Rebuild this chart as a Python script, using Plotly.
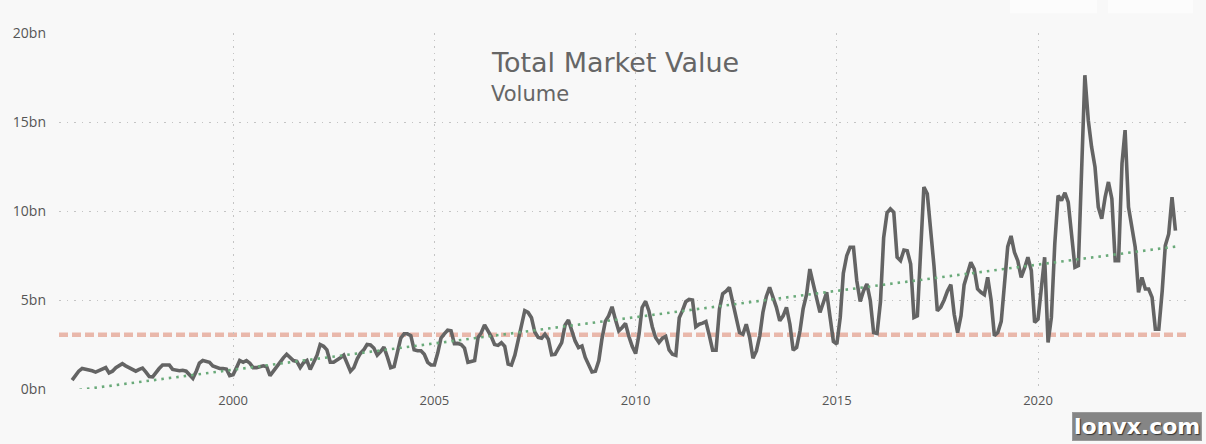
import pandas as pd
import plotly.graph_objects as go

# Monthly total market value (bn), Jan 1996 .. Jun 2023
start_month = "1996-01-01"
values_bn = [
    0.5, 0.8, 1.0, 1.15, 1.12, 1.08, 1.02, 0.95, 1.05, 1.15, 1.2, 0.9,        # 1996
    1.0, 1.2, 1.3, 1.42, 1.3, 1.2, 1.15, 1.0, 1.1, 1.17, 0.95, 0.7,           # 1997
    0.68, 0.95, 1.15, 1.35, 1.37, 1.35, 1.1, 1.05, 1.03, 1.05, 1.0, 0.8,      # 1998
    0.6, 1.0, 1.45, 1.6, 1.55, 1.5, 1.3, 1.2, 1.15, 1.15, 1.12, 0.75,         # 1999
    0.8, 1.2, 1.6, 1.5, 1.6, 1.45, 1.2, 1.2, 1.25, 1.3, 1.25, 0.75,           # 2000
    1.0, 1.25, 1.55, 1.75, 1.95, 1.8, 1.6, 1.55, 1.2, 1.48, 1.6, 1.1,         # 2001
    1.5, 1.9, 2.5, 2.4, 2.2, 1.5, 1.5, 1.6, 1.75, 1.9, 1.4, 1.0,              # 2002
    1.2, 1.7, 2.0, 2.2, 2.5, 2.48, 2.3, 1.9, 2.1, 2.35, 1.8, 1.2,             # 2003
    1.26, 2.0, 2.85, 3.1, 3.1, 3.0, 2.2, 2.15, 2.15, 1.95, 1.5, 1.35,         # 2004
    1.35, 2.05, 2.85, 3.1, 3.3, 3.27, 2.55, 2.56, 2.5, 2.3, 1.5, 1.55,        # 2005
    1.6, 2.9, 3.15, 3.6, 3.3, 2.95, 2.5, 2.45, 2.6, 2.4, 1.4, 1.35,           # 2006
    1.9, 2.8, 3.5, 4.4, 4.3, 4.0, 3.2, 2.9, 2.85, 3.08, 2.8, 1.92,            # 2007
    1.95, 2.33, 2.61, 3.6, 3.87, 3.27, 2.7, 2.33, 2.42, 1.77, 1.3, 0.96,      # 2008
    1.0, 1.6, 2.8, 3.8, 4.11, 4.62, 3.92, 3.27, 3.46, 3.68, 2.95, 2.4,        # 2009
    1.99, 3.08, 4.58, 4.92, 4.4, 3.5, 2.89, 2.61, 2.85, 2.95, 2.2, 1.95,      # 2010
    1.89, 4.0, 4.39, 4.9, 5.03, 5.0, 3.5, 3.64, 3.7, 3.79, 3.0, 2.18,         # 2011
    2.18, 4.5, 5.35, 5.5, 5.71, 4.9, 3.9, 3.17, 3.08, 3.64, 2.89, 1.73,       # 2012
    2.14, 3.0, 4.3, 5.2, 5.71, 5.15, 4.6, 3.83, 4.11, 4.58, 3.64, 2.18,       # 2013
    2.33, 3.27, 4.5, 5.3, 6.74, 5.9, 5.15, 4.3, 4.86, 5.43, 4.02, 2.67,       # 2014
    2.52, 4.02, 6.5, 7.49, 7.96, 7.96, 6.08, 4.92, 5.52, 5.9, 4.96, 3.17,     # 2015
    3.12, 4.9, 8.5, 9.9, 10.12, 9.93, 7.4, 7.21, 7.81, 7.77, 7.02, 4.02,      # 2016
    4.11, 8.0, 11.34, 10.97, 9.09, 6.9, 4.39, 4.6, 5.0, 5.5, 5.86, 4.2,       # 2017
    3.17, 4.11, 5.85, 6.46, 7.12, 6.74, 5.62, 5.43, 5.3, 6.27, 5.0, 2.99,     # 2018
    3.17, 3.8, 5.6, 8.0, 8.6, 7.68, 7.21, 6.27, 6.8, 7.4, 6.65, 3.74,         # 2019
    3.92, 5.8, 7.4, 2.61, 4.02, 8.15, 10.87, 10.59, 11.02, 10.5, 8.6, 6.84,   # 2020
    6.93, 12.66, 17.63, 15.1, 13.6, 12.47, 10.22, 9.56, 10.78, 11.63, 10.69, 7.21,  # 2021
    7.21, 12.66, 14.54, 10.22, 9.09, 7.96, 5.43, 6.27, 5.62, 5.62, 5.15, 3.36,      # 2022
    3.36, 5.52, 8.06, 8.71, 10.78, 8.9,                                       # 2023
]

trend_dates = ["1996-01-01", "2023-06-01"]
trend_values = [-0.1, 8.0]

threshold_value = 3.05

y_tick_values = [0, 5, 10, 15, 20]
y_tick_labels = ["0bn", "5bn", "10bn", "15bn", "20bn"]

title_text = "Total Market Value"
subtitle_text = "Volume"
watermark_text = "lonvx.com"

dates = pd.date_range(start_month, periods=len(values_bn), freq="MS")

fig = go.Figure()

fig.add_trace(go.Scatter(
    x=dates, y=values_bn, mode="lines",
    line=dict(color="#646464", width=3.6),
    hoverinfo="skip", showlegend=False,
))

fig.add_trace(go.Scatter(
    x=trend_dates, y=trend_values, mode="lines",
    line=dict(color="#6aaa7a", width=2.6, dash="2.5px,5px"),
    hoverinfo="skip", showlegend=False,
))

fig.add_hline(y=threshold_value, line=dict(color="#e9b8ab", width=4.5, dash="9px,4px"),
              layer="below")

bg = "#f8f8f8"
fig.update_layout(
    width=1206, height=444,
    margin=dict(l=59, r=18, t=33, b=55),
    paper_bgcolor=bg, plot_bgcolor=bg,
    showlegend=False,
    xaxis=dict(
        range=["1995-09-04", "2023-09-23"],
        tick0="2000-01-01", dtick="M60", tickformat="%Y",
        showgrid=True, gridcolor="#c4c4c4", griddash="1.5px,5px", gridwidth=1.2,
        zeroline=False, showline=False, ticks="",
        tickfont=dict(family="Open Sans", size=13, color="#555555"),
        ticklabelstandoff=2,
    ),
    yaxis=dict(
        range=[0, 20],
        tickvals=y_tick_values, ticktext=y_tick_labels,
        showgrid=True, gridcolor="#c4c4c4", griddash="1.5px,6px", gridwidth=1.2,
        zeroline=False, showline=False, ticks="",
        tickfont=dict(family="Open Sans", size=14, color="#555555"),
        ticklabelstandoff=12,
    ),
)

fig.add_annotation(
    text=title_text, xref="paper", yref="paper",
    x=0.3809, y=0.917, xanchor="left", yanchor="middle", showarrow=False,
    font=dict(family="DejaVu Sans", size=27, color="#666666"),
)
fig.add_annotation(
    text=subtitle_text, xref="paper", yref="paper",
    x=0.3809, y=0.829, xanchor="left", yanchor="middle", showarrow=False,
    font=dict(family="DejaVu Sans", size=21, color="#666666"),
)

# faint UI patches at top right
for px0, px1 in [(1010, 1097), (1108, 1193)]:
    fig.add_shape(type="rect", xref="paper", yref="paper",
                  x0=(px0 - 59) / 1129, x1=(px1 - 59) / 1129,
                  y0=(388.7 - 13) / 356, y1=(388.7 + 2) / 356,
                  fillcolor="#fcfcfc", line=dict(width=0), layer="below")

fig.add_annotation(
    text="<b>" + watermark_text + "</b>", xref="paper", yref="paper",
    x=(1137 - 59) / 1129, y=(388.7 - 426) / 356,
    xanchor="center", yanchor="middle", showarrow=False,
    font=dict(family="DejaVu Sans", size=22, color="#ffffff",
              shadow="1px 1px 1px #333333"),
    bgcolor="#858585", bordercolor="#9a9a9a", borderwidth=1, borderpad=1,
)

fig.write_html("out.html")
